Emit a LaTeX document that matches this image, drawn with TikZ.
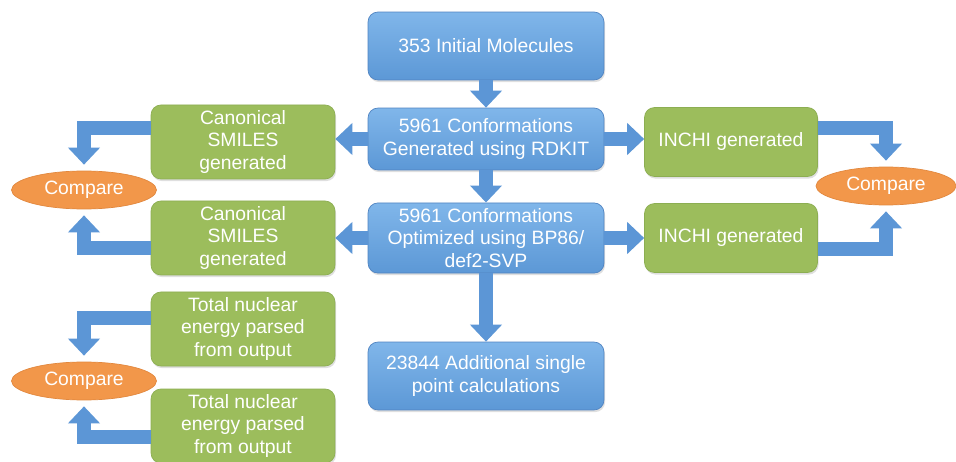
\documentclass[tikz,border=0pt]{standalone}
\usepackage{fontspec}
\setmainfont{Liberation Sans}
\usetikzlibrary{arrows.meta,shapes.geometric,shadows}

\definecolor{boxblue}{RGB}{92,152,214}
\definecolor{boxbluetop}{RGB}{128,182,234}
\definecolor{blueline}{RGB}{80,132,194}
\definecolor{boxgreen}{RGB}{156,189,92}
\definecolor{greenline}{RGB}{140,174,82}
\definecolor{cmporange}{RGB}{242,151,74}
\definecolor{orangeline}{RGB}{226,136,62}
\definecolor{arrowblue}{RGB}{92,150,214}

\tikzset{
  stage/.style={rectangle, rounded corners=0.2cm, draw=blueline, top color=boxbluetop,
    bottom color=boxblue, text=white, align=center, minimum width=4.72cm,
    minimum height=1.36cm, font=\fontsize{11}{12.6}\selectfont,
    drop shadow={opacity=0.25, shadow xshift=0.6pt, shadow yshift=-1.2pt}},
  check/.style={rectangle, rounded corners=0.2cm, draw=greenline, fill=boxgreen,
    text=white, align=center, minimum height=1.38cm, font=\fontsize{11}{12.6}\selectfont,
    drop shadow={opacity=0.25, shadow xshift=0.6pt, shadow yshift=-1.2pt}},
  cmp/.style={ellipse, draw=orangeline, fill=cmporange, text=white, inner sep=0pt,
    minimum width=2.9cm, minimum height=0.76cm, font=\fontsize{11}{12.6}\selectfont},
  flow/.style={draw=arrowblue, line width=0.28cm,
    -{Triangle[length=0.34cm, width=0.62cm]}},
}

\begin{document}
\begin{tikzpicture}[x=0.02cm, y=-0.02cm]
  \useasboundingbox[fill=white] (0,0) rectangle (956,462);

  % main pipeline
  \node[stage] (init) at (486,46) {353 Initial Molecules};
  \node[stage, minimum height=1.24cm] (rdkit) at (486,139) {5961 Conformations\\Generated using RDKIT};
  \node[stage] (opt) at (486,238) {5961 Conformations\\Optimized using BP86/\\def2-SVP};
  \node[stage] (spc) at (486,376) {23844 Additional single\\point calculations};

  % checks
  \node[check, minimum width=3.68cm] (smilesA) at (243,142) {Canonical\\SMILES\\generated};
  \node[check, minimum width=3.68cm] (smilesB) at (243,238) {Canonical\\SMILES\\generated};
  \node[check, minimum width=3.68cm] (energyA) at (243,329) {Total nuclear\\energy parsed\\from output};
  \node[check, minimum width=3.68cm] (energyB) at (243,426) {Total nuclear\\energy parsed\\from output};
  \node[check, minimum width=3.46cm] (inchiA) at (731,142) {INCHI generated};
  \node[check, minimum width=3.46cm] (inchiB) at (731,238) {INCHI generated};

  \node[cmp] (cmpL) at (84,190) {Compare};
  \node[cmp, minimum width=2.8cm] (cmpR) at (886,186) {Compare};
  \node[cmp] (cmpE) at (84,381) {Compare};

  % arrows
  \draw[flow] (init) -- (rdkit);
  \draw[flow] (rdkit) -- (opt);
  \draw[flow] (opt) -- (spc);
  \draw[flow] (rdkit.west) -- (rdkit.west -| smilesA.east);
  \draw[flow] (rdkit.east) -- (rdkit.east -| inchiA.west);
  \draw[flow] (opt.west) -- (opt.west -| smilesB.east);
  \draw[flow] (opt.east) -- (opt.east -| inchiB.west);

  \draw[flow] ([yshift=0.28cm]smilesA.west) -| ([yshift=0.12cm]cmpL.north);
  \draw[flow] ([yshift=-0.2cm]smilesB.west) -| ([yshift=-0.12cm]cmpL.south);
  \draw[flow] ([yshift=0.28cm]inchiA.east) -| ([yshift=0.12cm]cmpR.north);
  \draw[flow] ([yshift=-0.22cm]inchiB.east) -| ([yshift=-0.12cm]cmpR.south);
  \draw[flow] ([yshift=0.22cm]energyA.west) -| ([yshift=0.12cm]cmpE.north);
  \draw[flow] ([yshift=-0.22cm]energyB.west) -| ([yshift=-0.12cm]cmpE.south);
\end{tikzpicture}
\end{document}
